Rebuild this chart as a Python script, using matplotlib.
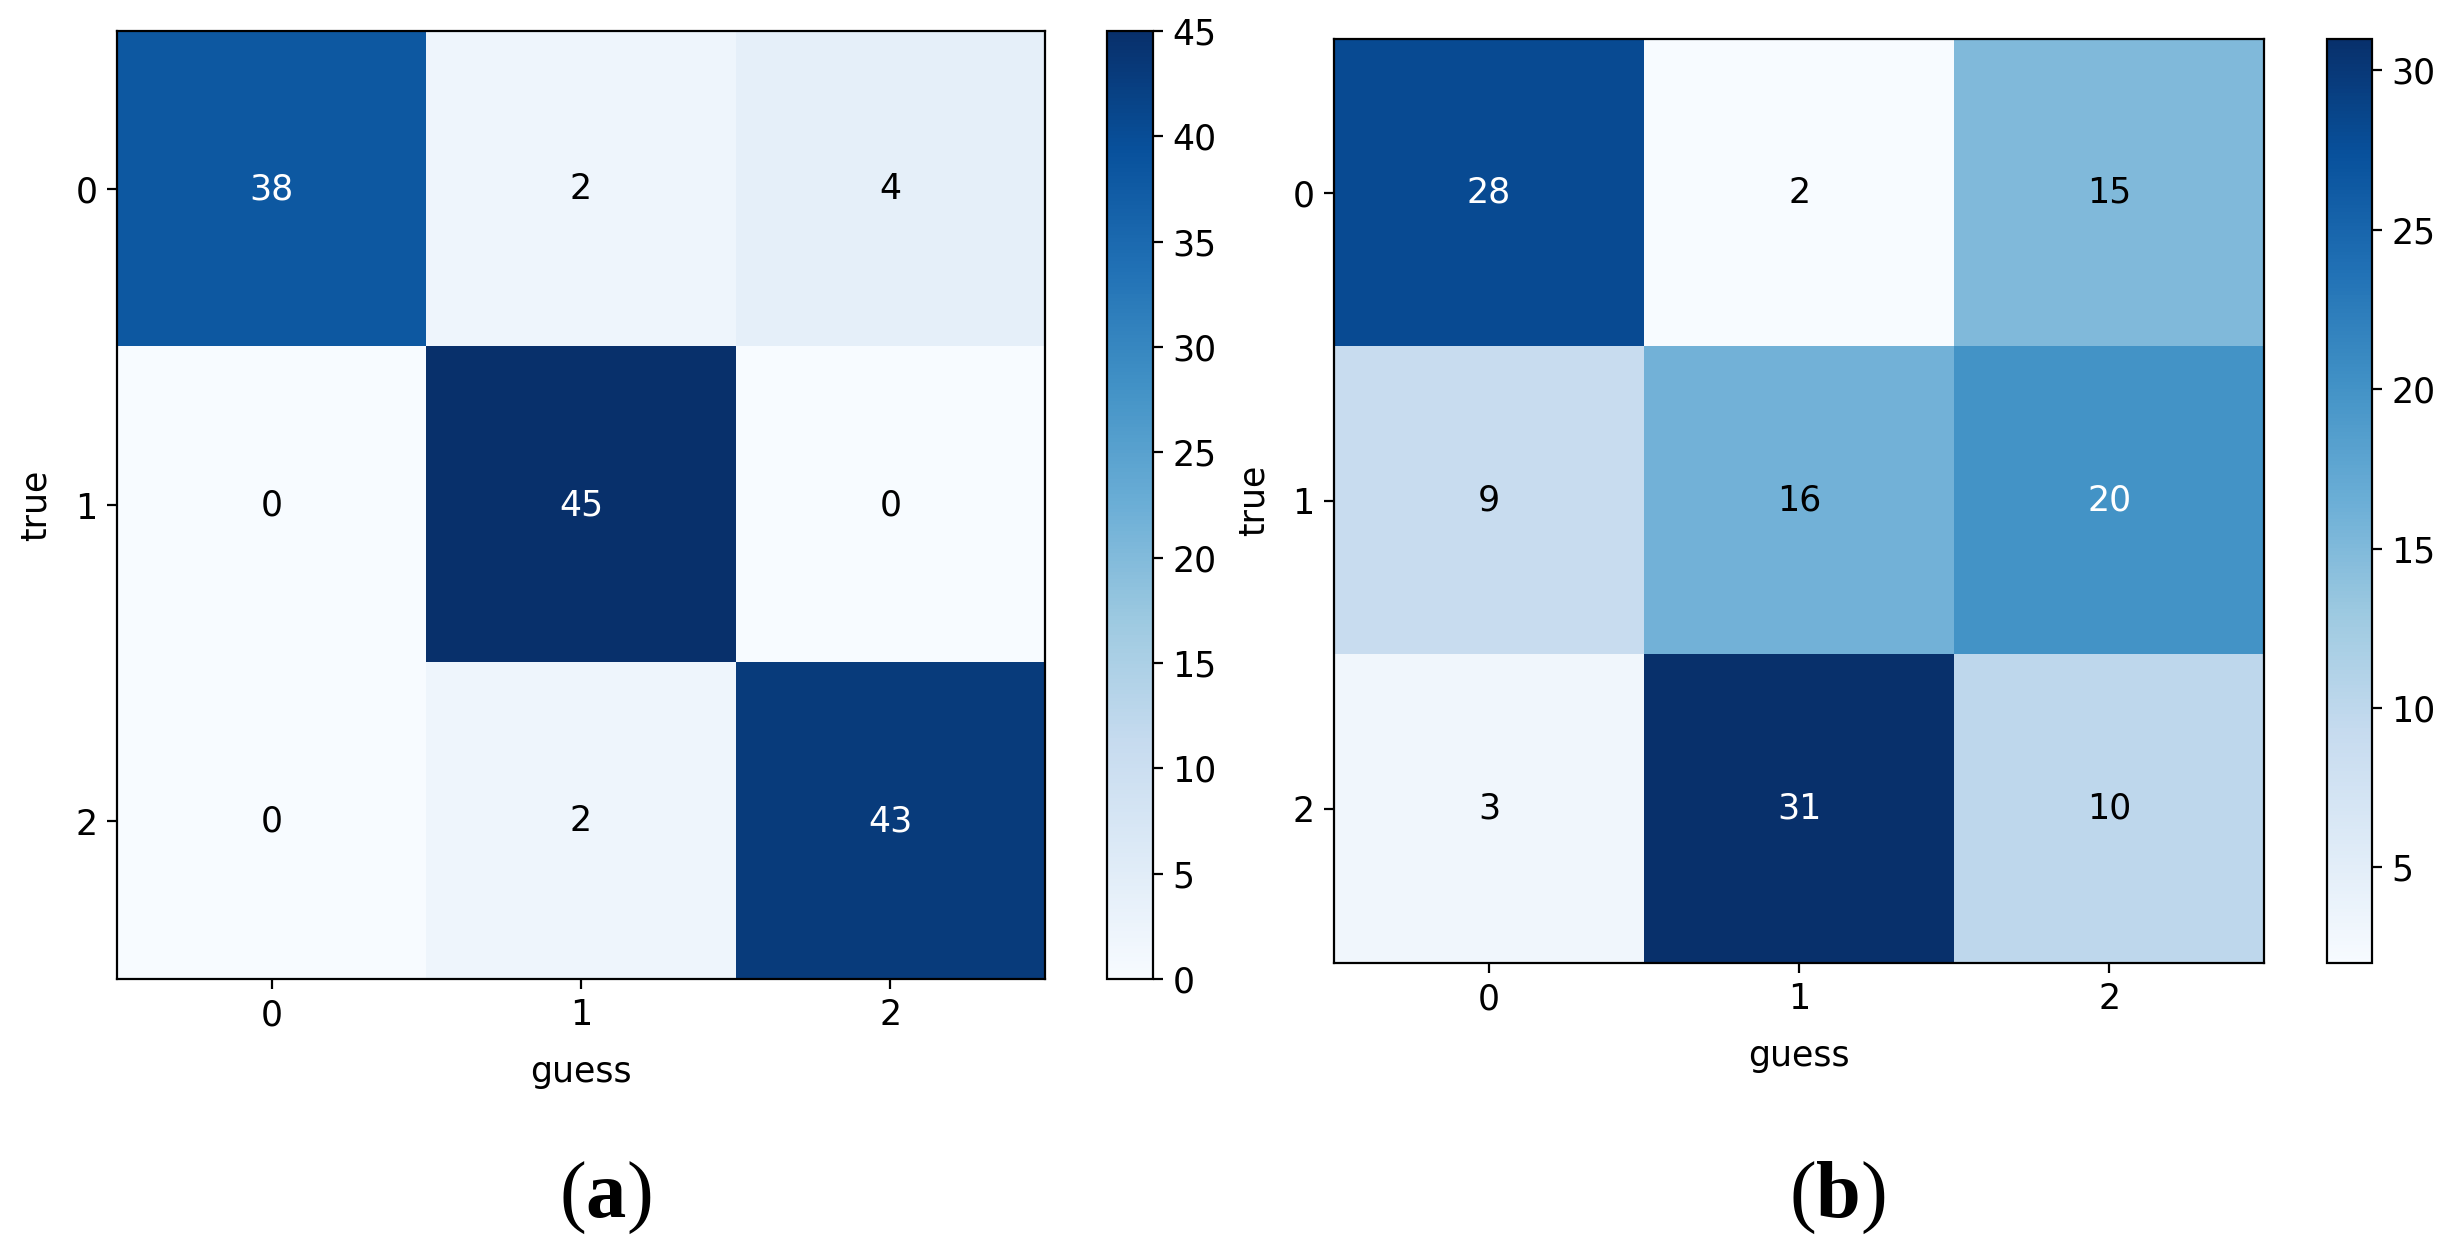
import numpy as np
import matplotlib
matplotlib.use("Agg")
import matplotlib.pyplot as plt

plt.rcParams['mathtext.fontset'] = 'custom'
plt.rcParams['mathtext.bf'] = 'Liberation Serif:bold'
plt.rcParams['mathtext.rm'] = 'Liberation Serif'

classes = ['0', '1', '2']
cm_a = np.array([[38, 2, 4],
                 [0, 45, 0],
                 [0, 2, 43]])
cm_b = np.array([[28, 2, 15],
                 [9, 16, 20],
                 [3, 31, 10]])
panel_labels = ['a', 'b']

FS = 12.5

fig = plt.figure(figsize=(12.28, 6.22), dpi=200)

layout = [
    # axes rect, colorbar rect
    ([0.0476, 0.2130, 0.3779, 0.7620], [0.4507, 0.2130, 0.0187, 0.7620]),
    ([0.5432, 0.2260, 0.3787, 0.7430], [0.9475, 0.2260, 0.0183, 0.7430]),
]
label_x = [0.2465, 0.748]

for cm, (rect, crect), lab, lx in zip([cm_a, cm_b], layout, panel_labels, label_x):
    ax = fig.add_axes(rect)
    cax = fig.add_axes(crect)
    im = ax.imshow(cm, cmap='Blues', interpolation='nearest', aspect='auto')
    cb = fig.colorbar(im, cax=cax)
    cb.ax.tick_params(labelsize=FS)
    thresh = (cm.max() + cm.min()) / 2.0
    for i in range(cm.shape[0]):
        for j in range(cm.shape[1]):
            ax.text(j, i, str(cm[i, j]), ha='center', va='center', fontsize=FS,
                    color='white' if cm[i, j] > thresh else 'black')
    ax.set_xticks(range(len(classes)))
    ax.set_yticks(range(len(classes)))
    ax.set_xticklabels(classes)
    ax.set_yticklabels(classes)
    ax.tick_params(labelsize=FS)
    ax.set_xlabel('guess', fontsize=FS, labelpad=8)
    ax.set_ylabel('true', fontsize=FS, labelpad=8)
    fig.text(lx, 0.037, r'($\mathbf{%s}$)' % lab, ha='center', va='center',
             fontsize=29, fontfamily='Liberation Serif')

fig.savefig('out.png', dpi=200)
